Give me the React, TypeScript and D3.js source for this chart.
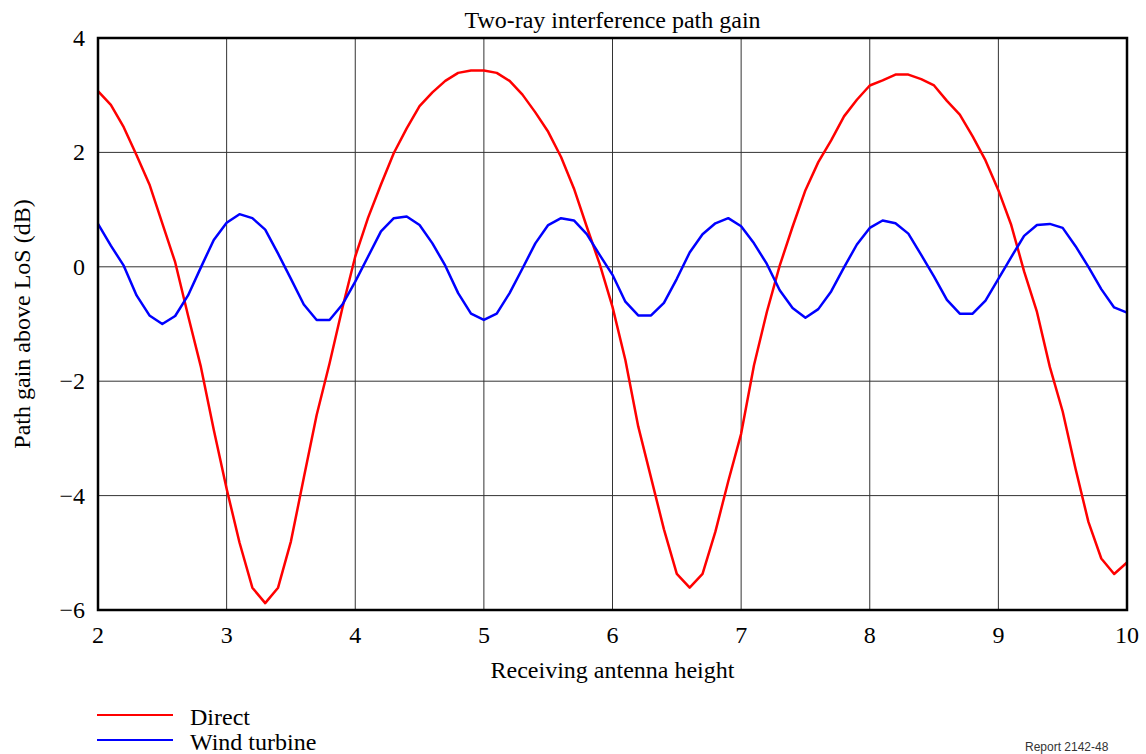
import { useEffect, useRef } from "react";
import * as d3 from "d3";

// receiving antenna height, step 0.1 from 2 to 10
const heights: number[] = d3.range(0, 81).map((i) => 2 + i / 10);

const directGain: number[] = [
  3.07, 2.83, 2.44, 1.95, 1.44, 0.76, 0.08, -0.85, -1.75, -2.85,
  -3.88, -4.82, -5.61, -5.88, -5.61, -4.8, -3.69, -2.59, -1.69, -0.72,
  0.18, 0.86, 1.44, 1.99, 2.42, 2.81, 3.05, 3.25, 3.39, 3.43,
  3.43, 3.39, 3.25, 3.01, 2.7, 2.36, 1.92, 1.37, 0.7, 0.05,
  -0.7, -1.63, -2.79, -3.69, -4.59, -5.37, -5.61, -5.37, -4.63, -3.75,
  -2.92, -1.72, -0.79, 0.02, 0.7, 1.34, 1.83, 2.21, 2.63, 2.92,
  3.17, 3.26, 3.36, 3.36, 3.28, 3.17, 2.9, 2.66, 2.28, 1.86,
  1.34, 0.73, -0.08, -0.79, -1.75, -2.53, -3.53, -4.46, -5.1, -5.37,
  -5.17,
];

const turbineGain: number[] = [
  0.75, 0.37, 0.02, -0.5, -0.85, -1.0, -0.86, -0.5, -0.01, 0.47,
  0.77, 0.92, 0.85, 0.65, 0.23, -0.21, -0.66, -0.93, -0.93, -0.66,
  -0.26, 0.18, 0.62, 0.85, 0.88, 0.73, 0.41, 0.02, -0.46, -0.82,
  -0.93, -0.82, -0.46, -0.03, 0.41, 0.73, 0.85, 0.81, 0.57, 0.21,
  -0.14, -0.61, -0.85, -0.85, -0.63, -0.21, 0.25, 0.57, 0.76, 0.85,
  0.71, 0.41, 0.05, -0.41, -0.72, -0.89, -0.74, -0.43, -0.01, 0.39,
  0.68, 0.81, 0.76, 0.58, 0.21, -0.17, -0.58, -0.82, -0.82, -0.59,
  -0.21, 0.17, 0.54, 0.73, 0.75, 0.68, 0.36, 0.0, -0.39, -0.71,
  -0.8,
];

const xTicks: number[] = [2, 3, 4, 5, 6, 7, 8, 9, 10];
const yTicks: number[] = [-6, -4, -2, 0, 2, 4];

const seriesNames: string[] = ["Direct", "Wind turbine"];
const seriesColors: string[] = ["#ff0000", "#0000ff"];

export default function App() {
  const svgRef = useRef<SVGSVGElement>(null);

  useEffect(() => {
    if (!svgRef.current) return;
    const svg = d3.select(svgRef.current);
    svg.selectAll("*").remove();

    const left = 98;
    const right = 1127;
    const top = 38;
    const bottom = 610;
    const font = "'Liberation Serif', 'Times New Roman', serif";

    const x = d3.scaleLinear().domain([2, 10]).range([left, right]);
    const y = d3.scaleLinear().domain([-6, 4]).range([bottom, top]);

    // grid
    const grid = svg.append("g");
    grid
      .selectAll("line.vx")
      .data(xTicks.slice(1, -1))
      .enter()
      .append("line")
      .attr("x1", (d) => x(d))
      .attr("x2", (d) => x(d))
      .attr("y1", top)
      .attr("y2", bottom)
      .attr("stroke", "#333")
      .attr("stroke-width", 1);
    grid
      .selectAll("line.hy")
      .data(yTicks.slice(1, -1))
      .enter()
      .append("line")
      .attr("x1", left)
      .attr("x2", right)
      .attr("y1", (d) => y(d))
      .attr("y2", (d) => y(d))
      .attr("stroke", "#333")
      .attr("stroke-width", 1);

    // series
    const series = [directGain, turbineGain];
    const line = d3
      .line<number>()
      .x((_, i) => x(heights[i]))
      .y((d) => y(d));
    series.forEach((vals, k) => {
      svg
        .append("path")
        .datum(vals)
        .attr("d", line)
        .attr("fill", "none")
        .attr("stroke", seriesColors[k])
        .attr("stroke-width", 2.5)
        .attr("stroke-linejoin", "round");
    });

    // frame
    svg
      .append("rect")
      .attr("x", left)
      .attr("y", top)
      .attr("width", right - left)
      .attr("height", bottom - top)
      .attr("fill", "none")
      .attr("stroke", "#000")
      .attr("stroke-width", 2.5);

    // tick labels
    svg
      .selectAll("text.xt")
      .data(xTicks)
      .enter()
      .append("text")
      .attr("x", (d) => x(d))
      .attr("y", 643)
      .attr("text-anchor", "middle")
      .attr("font-family", font)
      .attr("font-size", 24)
      .text((d) => d);

    svg
      .selectAll("text.yt")
      .data(yTicks)
      .enter()
      .append("text")
      .attr("x", 85)
      .attr("y", (d) => y(d) + 8)
      .attr("text-anchor", "end")
      .attr("font-family", font)
      .attr("font-size", 24)
      .text((d) => (d < 0 ? "\u2212" + Math.abs(d) : String(d)));

    // titles
    svg
      .append("text")
      .attr("x", (left + right) / 2)
      .attr("y", 28)
      .attr("text-anchor", "middle")
      .attr("font-family", font)
      .attr("font-size", 24)
      .text("Two-ray interference path gain");

    svg
      .append("text")
      .attr("x", (left + right) / 2)
      .attr("y", 678)
      .attr("text-anchor", "middle")
      .attr("font-family", font)
      .attr("font-size", 24)
      .text("Receiving antenna height");

    svg
      .append("text")
      .attr("transform", `translate(30,${(top + bottom) / 2}) rotate(-90)`)
      .attr("text-anchor", "middle")
      .attr("font-family", font)
      .attr("font-size", 24)
      .text("Path gain above LoS (dB)");

    // legend
    seriesNames.forEach((name, k) => {
      const ly = 715 + k * 25;
      svg
        .append("line")
        .attr("x1", 97)
        .attr("x2", 173)
        .attr("y1", ly)
        .attr("y2", ly)
        .attr("stroke", seriesColors[k])
        .attr("stroke-width", 2);
      svg
        .append("text")
        .attr("x", 190)
        .attr("y", ly + 10)
        .attr("font-family", font)
        .attr("font-size", 24)
        .text(name);
    });

    svg
      .append("text")
      .attr("x", 1025)
      .attr("y", 751)
      .attr("font-family", "'Liberation Sans', Arial, sans-serif")
      .attr("font-size", 12)
      .attr("fill", "#333")
      .text("Report 2142-48");
  }, []);

  return (
    <svg
      ref={svgRef}
      width={1146}
      height={754}
      style={{ position: "absolute", left: 0, top: 0, background: "#fff" }}
    />
  );
}
